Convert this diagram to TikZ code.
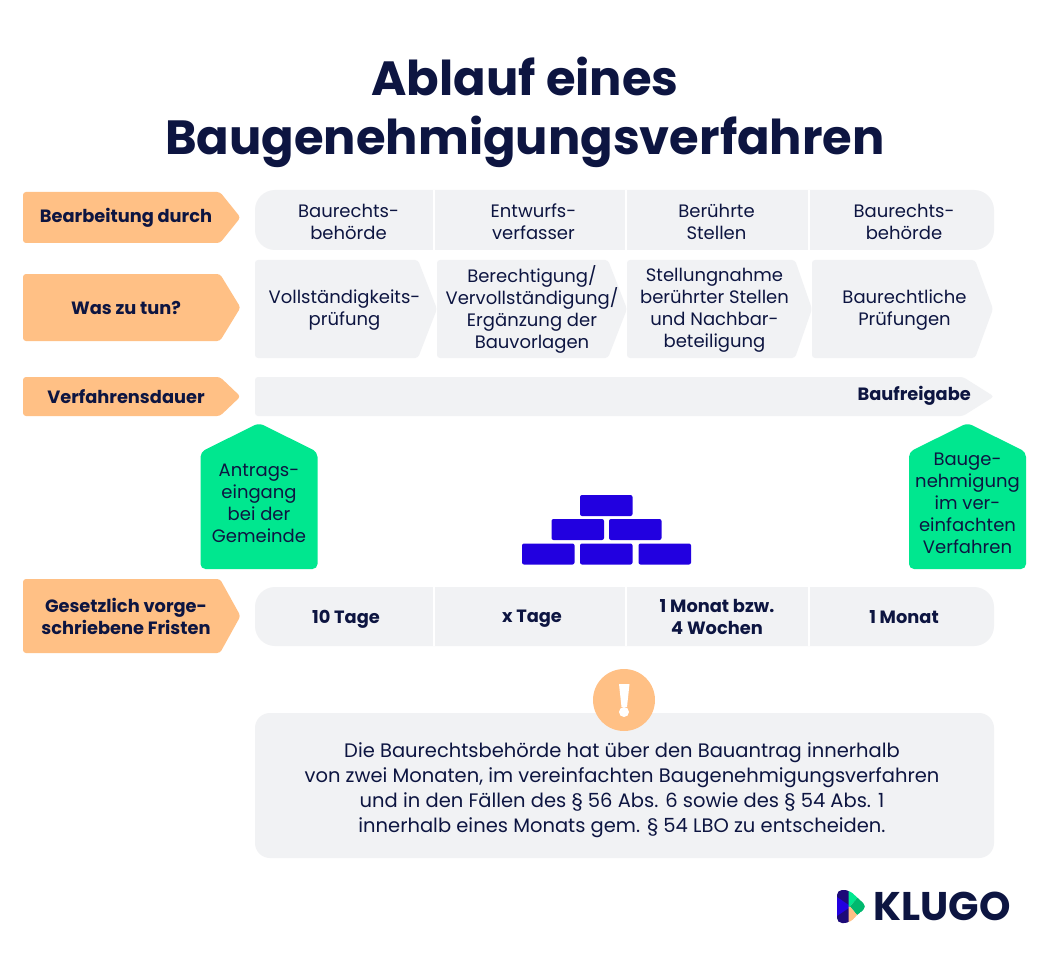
\documentclass[tikz,border=0pt]{standalone}
\usepackage{fontspec}
\setmainfont{Poppins}
\definecolor{inktext}{HTML}{0D1541}
\definecolor{panelgrey}{HTML}{F1F2F4}
\definecolor{labelorange}{HTML}{FFC085}
\definecolor{stampgreen}{HTML}{00E78F}
\definecolor{logogreen}{HTML}{00B86E}
\definecolor{logoviolet}{HTML}{1D0A78}
\definecolor{brickblue}{HTML}{2200E0}
\begin{document}
\begin{tikzpicture}[x=1pt, y=-1pt]
            \tikzset{plaintext/.style={text=inktext, align=center, inner sep=0pt, font=\fontsize{18}{22}\selectfont}}
            \tikzset{boldtext/.style={plaintext, font=\fontsize{17.8}{22.5}\selectfont\bfseries}}
            \tikzset{labelarrow/.style={fill=labelorange, rounded corners=3pt}}
            \tikzset{greyarrow/.style={fill=panelgrey, rounded corners=3pt}}
            \tikzset{stamp/.style={fill=stampgreen, rounded corners=5pt}}
            \tikzset{brick/.style={fill=brickblue, rounded corners=2pt}}
            \useasboundingbox (0, 0) rectangle (1047, 960);
            \fill[white] (0, 0) rectangle (1047, 960);
            \node[text=inktext, align=center, inner sep=0pt, font=\fontsize{48}{59}\selectfont\bfseries] (title) at (525, 112) {Ablauf eines\\Baugenehmigungsverfahren};
            % orange row labels
            \foreach \top/\bottom/\name/\txt in {192/243/bearbeitung/{Bearbeitung durch}, 274/341/wastun/{Was zu tun?}, 377/416/dauer/{Verfahrensdauer}, 579/653/fristen/{Gesetzlich vorge-\\schriebene Fristen}} {
                \fill[labelarrow] (23, \top) -- (220, \top) -- (240.5, {(\top+\bottom)/2}) -- (220, \bottom) -- (23, \bottom) -- cycle;
                \node[boldtext] (\name) at (126, {(\top+\bottom)/2+0.5}) {\txt};
            }
            % grey tables with white gaps
            \foreach \top/\bottom in {190/250, 587/646} {
                \fill[panelgrey, rounded corners=20pt] (255, \top) rectangle (994, \bottom);
                \foreach \x in {433.5, 625.5, 808.5} {
                    \fill[white] (\x-1, \top) rectangle (\x+1, \bottom);
                }
            }
            \foreach \x/\name/\txt in {348.5/wera/{Baurechts-\\behörde}, 533.5/werb/{Entwurfs-\\verfasser}, 716.5/werc/{Berührte\\Stellen}, 904/werd/{Baurechts-\\behörde}} {
                \node[plaintext] (\name) at (\x, 222) {\txt};
            }
            % work steps
            \foreach \left/\shoulder/\tip/\x/\y/\name/\txt in {255/418/437/344.5/310/stepa/{Vollständigkeits-\\prüfung}, 437/608/627/532/309/stepb/{Berechtigung/\\Vervollständigung/\\Ergänzung der\\Bauvorlagen}, 627/795/812/714.5/310.5/stepc/{Stellungnahme\\berührter Stellen\\und Nachbar-\\beteiligung}, 812/975/993/904.5/310/stepd/{Baurechtliche\\Prüfungen}} {
                \fill[greyarrow] (\left, 260) -- (\shoulder, 260) -- (\tip, 309) -- (\shoulder, 358) -- (\left, 358) -- cycle;
                \node[plaintext] (\name) at (\x, \y) {\txt};
            }
            \fill[greyarrow] (255, 377) -- (963, 377) -- (994, 396.5) -- (963, 416) -- (255, 416) -- cycle;
            \node[boldtext, anchor=east] (baufreigabe) at (971, 396) {Baufreigabe};
            % green stamps
            \foreach \x/\name/\txt in {259/antrag/{Antrags-\\eingang\\bei der\\Gemeinde}, 967.5/genehmigung/{Bauge-\\nehmigung\\im ver-\\einfachten\\Verfahren}} {
                \fill[stamp] (\x-58.5, 569) -- (\x-58.5, 452) -- (\x, 423) -- (\x+58.5, 452) -- (\x+58.5, 569) -- cycle;
                \node[plaintext] (\name) at (\x, 503) {\txt};
            }
            % bricks
            \foreach \x/\y in {580/495, 551.5/519, 609/519, 522/543.5, 580/543.5, 638.5/543.5} {
                \fill[brick] (\x, \y) rectangle (\x+52.5, \y+21);
            }
            \foreach \x/\y/\name/\txt in {346/619/frista/{10 Tage}, 532/619/fristb/{x Tage}, 717/617/fristc/{1 Monat bzw.\\4 Wochen}, 904/617/fristd/{1 Monat}} {
                \node[boldtext] (\name) at (\x, \y) {\txt};
            }
            % note
            \fill[panelgrey, rounded corners=15pt] (255, 713) rectangle (994, 858);
            \fill[labelorange] (624, 700) circle[radius=31];
            \fill[white] (619, 684) -- (629.5, 684) -- (627, 707) -- (621.5, 707) -- cycle;
            \fill[white] (624, 712) circle[radius=5];
            \node[plaintext, font=\fontsize{19.5}{25}\selectfont] (note) at (622, 790) {Die Baurechtsbehörde hat über den Bauantrag innerhalb\\von zwei Monaten, im vereinfachten Baugenehmigungsverfahren\\und in den Fällen des § 56 Abs. 6 sowie des § 54 Abs. 1\\innerhalb eines Monats gem. § 54 LBO zu entscheiden.};
            % logo
            \begin{scope}
                \clip[rounded corners=5pt] (837, 890) -- (849, 890) -- (867, 906.5) -- (849, 923) -- (837, 923) -- cycle;
                \fill[logoviolet] (834, 888) rectangle (849, 925);
                \fill[brickblue] (834, 895) -- (851, 906.5) -- (834, 918) -- cycle;
                \fill[stampgreen] (848.5, 888) -- (858, 897) -- (850, 906.5) -- (848.5, 906.5) -- cycle;
                \fill[logogreen] (858, 897) -- (868, 906.5) -- (857, 915) -- (850, 906.5) -- cycle;
                \fill[labelorange] (848.5, 906.5) -- (850, 906.5) -- (857, 915) -- (848.5, 925) -- cycle;
            \end{scope}
            \node[text=inktext, inner sep=0pt, font=\fontsize{40}{40}\selectfont\bfseries] (logo) at (942, 906.5) {KLUGO};
        \end{tikzpicture}
\end{document}
